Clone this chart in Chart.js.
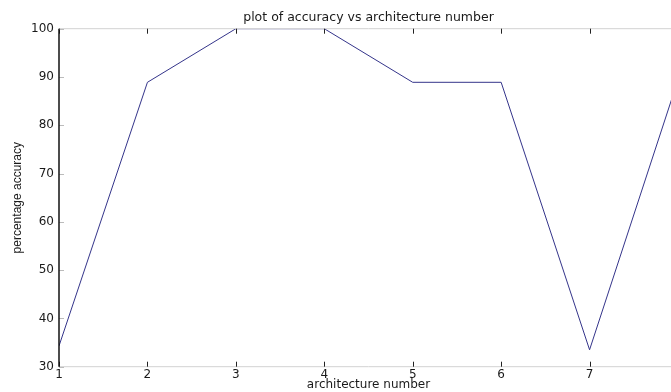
<!DOCTYPE html>
<html>
<head>
<meta charset="utf-8">
<script src="https://cdn.jsdelivr.net/npm/chart.js@4"></script>
<style>
  html, body { margin: 0; padding: 0; background: #fff; overflow: hidden; }
  #wrap { width: 671px; height: 392px; overflow: hidden; position: relative; }
  canvas { display: block; }
</style>
</head>
<body>
<div id="wrap"><canvas id="c" width="700" height="392"></canvas></div>
<script>
// ---- data ----
const architectures = [1, 2, 3, 4, 5, 6, 7, 8];
const accuracy = [34.3, 88.9, 100, 100, 88.9, 88.9, 33.5, 89.4];
const yTickValues = [30, 40, 50, 60, 70, 80, 90, 100];
const xTickValues = [1, 2, 3, 4, 5, 6, 7, 8];
const chartTitle = 'plot of accuracy vs architecture number';
const xTitle = 'architecture number';
const yTitle = 'percentage accuracy';

const points = architectures.map((a, i) => ({ x: a, y: accuracy[i] }));

const boxPlugin = {
  id: 'matlabBox',
  afterDatasetsDraw(chart) {
    const ctx = chart.ctx;
    const { left, right, top, bottom } = chart.chartArea;
    const xs = chart.scales.x, ys = chart.scales.y;
    ctx.save();
    // top & bottom light lines
    ctx.strokeStyle = '#d2d2d2';
    ctx.lineWidth = 1;
    ctx.beginPath();
    ctx.moveTo(left, top); ctx.lineTo(right, top);
    ctx.moveTo(left, bottom); ctx.lineTo(right, bottom);
    ctx.stroke();
    // x ticks (inward, top and bottom)
    ctx.strokeStyle = '#222';
    ctx.lineWidth = 1;
    ctx.beginPath();
    xTickValues.forEach(v => {
      const px = Math.round(xs.getPixelForValue(v)) + 0.5;
      ctx.moveTo(px, bottom); ctx.lineTo(px, bottom - 5);
      ctx.moveTo(px, top); ctx.lineTo(px, top + 5);
    });
    ctx.stroke();
    // y ticks (inward, left and right)
    ctx.strokeStyle = '#bbb';
    ctx.beginPath();
    yTickValues.forEach(v => {
      const py = Math.round(ys.getPixelForValue(v)) + 0.5;
      ctx.moveTo(left, py); ctx.lineTo(left + 5, py);
      ctx.moveTo(right, py); ctx.lineTo(right - 5, py);
    });
    ctx.stroke();
    // left axis: dark
    ctx.strokeStyle = '#111';
    ctx.lineWidth = 1.5;
    ctx.beginPath();
    ctx.moveTo(left, top); ctx.lineTo(left, bottom);
    ctx.stroke();
    ctx.restore();
  }
};

new Chart(document.getElementById('c'), {
  type: 'line',
  data: {
    datasets: [{
      data: points,
      borderColor: '#34348a',
      borderWidth: 1,
      pointRadius: 0,
      fill: false,
      tension: 0
    }]
  },
  options: {
    responsive: false,
    devicePixelRatio: 1,
    animation: false,
    layout: { padding: { left: 0, right: 22, top: 0, bottom: 0 } },
    plugins: {
      legend: { display: false },
      tooltip: { enabled: false },
      title: {
        display: true,
        text: chartTitle,
        fullSize: false,
        color: '#1a1a1a',
        font: { family: 'DejaVu Sans', size: 12.5, weight: 'normal' },
        padding: { top: 9.8, bottom: 3.9 }
      }
    },
    scales: {
      x: {
        type: 'linear',
        min: 1, max: 8,
        afterBuildTicks(scale) { scale.ticks = xTickValues.map(v => ({ value: v })); },
        afterFit(scale) { scale.height = 25.3; },
        grid: { display: false, drawTicks: false },
        border: { display: false },
        ticks: {
          color: '#1a1a1a',
          padding: 1,
          maxRotation: 0,
          autoSkip: false,
          font: { family: 'DejaVu Sans', size: 12 }
        },
        title: {
          display: true,
          text: xTitle,
          color: '#1a1a1a',
          font: { family: 'DejaVu Sans', size: 12 },
          padding: { top: 0, bottom: 0 }
        }
      },
      y: {
        type: 'linear',
        min: 30, max: 100,
        afterBuildTicks(scale) { scale.ticks = yTickValues.map(v => ({ value: v })); },
        afterFit(scale) { scale.width = 59; },
        grid: { display: false, drawTicks: false },
        border: { display: false },
        ticks: {
          color: '#1a1a1a',
          padding: 5,
          autoSkip: false,
          font: { family: 'DejaVu Sans', size: 12 }
        },
        title: {
          display: true,
          text: yTitle,
          color: '#1a1a1a',
          font: { family: 'Liberation Sans', size: 12 },
          padding: { top: 10.8, bottom: 0 }
        }
      }
    }
  },
  plugins: [boxPlugin]
});
</script>
</body>
</html>
